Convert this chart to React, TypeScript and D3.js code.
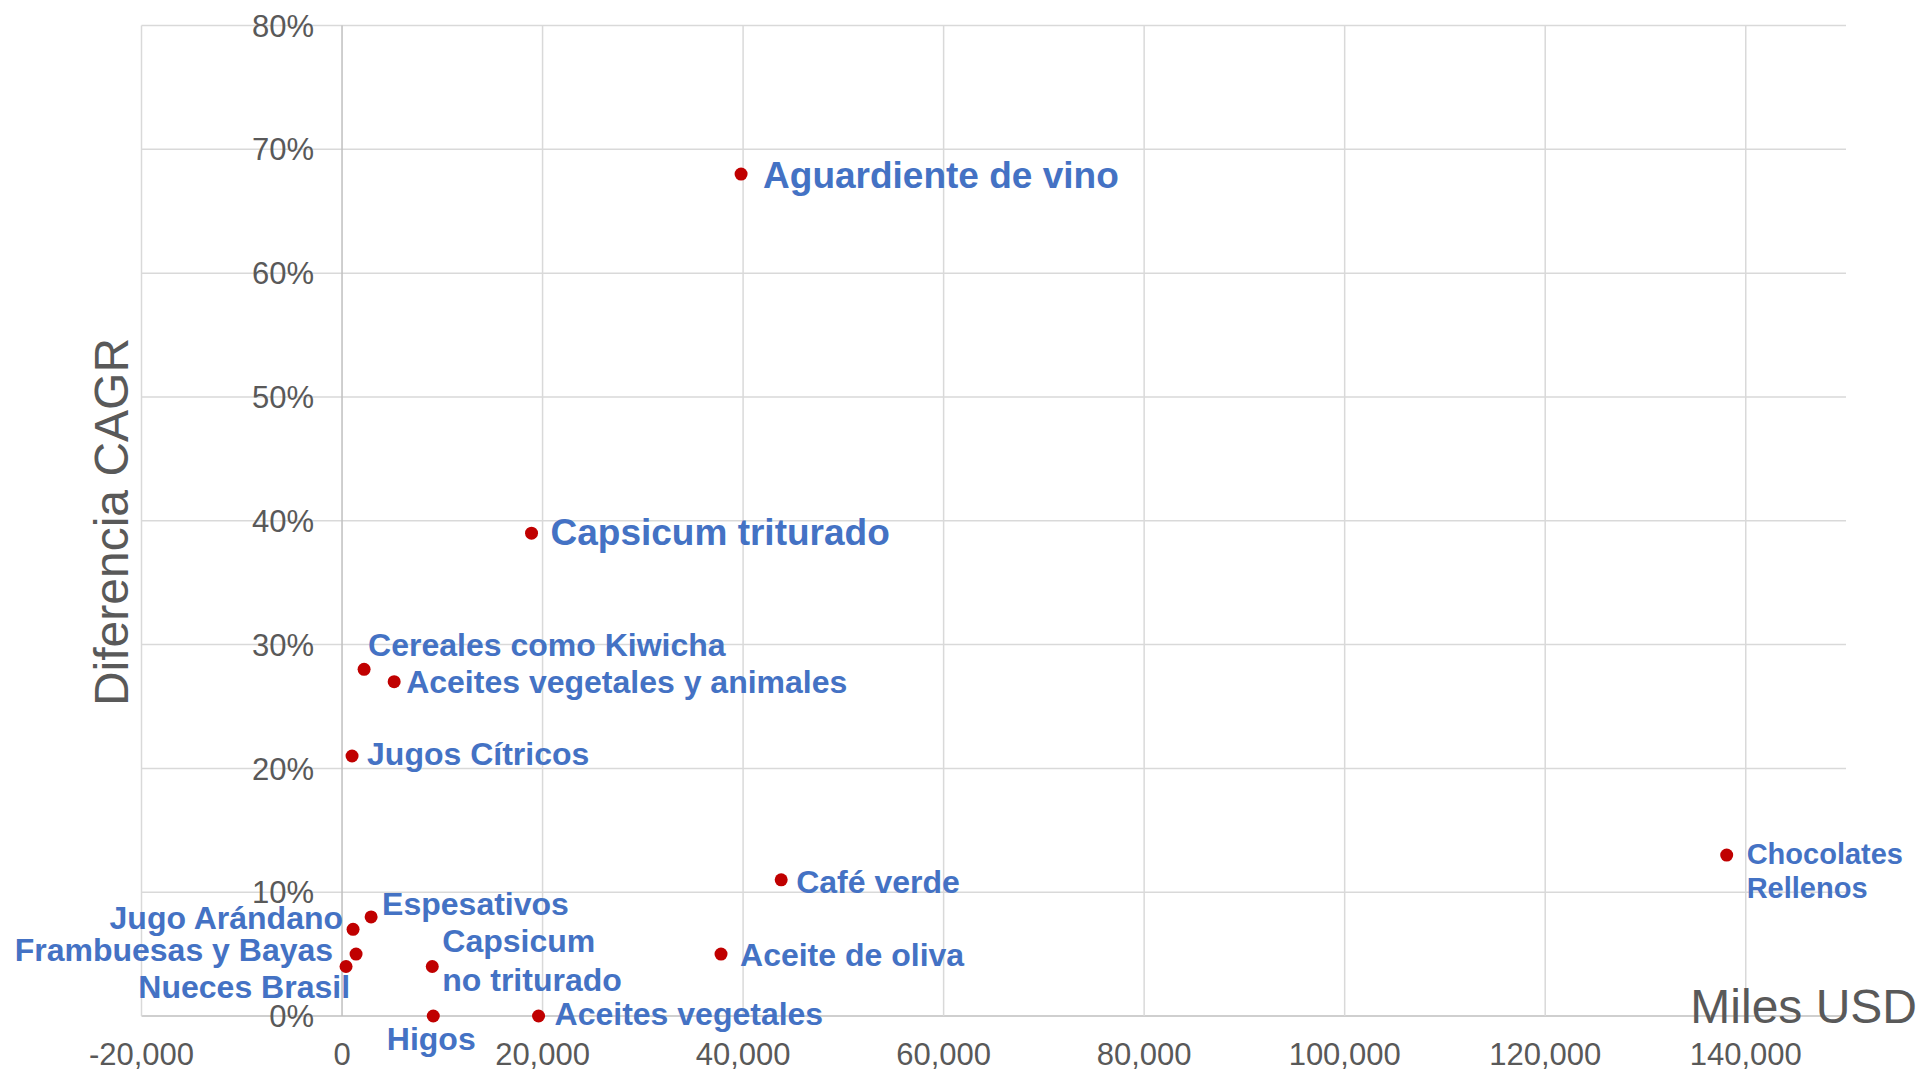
import React, { useEffect } from "react";
import * as d3 from "d3";

// ---- Data ----
const products = [
  "Aguardiente de vino",
  "Capsicum triturado",
  "Cereales como Kiwicha",
  "Aceites vegetales y animales",
  "Jugos Cítricos",
  "Café verde",
  "Chocolates Rellenos",
  "Espesativos",
  "Jugo Arándano",
  "Frambuesas y Bayas",
  "Nueces Brasil",
  "Capsicum no triturado",
  "Higos",
  "Aceites vegetales",
  "Aceite de oliva",
];
// Miles USD
const exportValues = [39800, 18900, 2200, 5200, 1000, 43800, 138100, 2900, 1100, 1400, 400, 9000, 9100, 19600, 37800];
// Diferencia CAGR
const cagrDiff = [0.68, 0.39, 0.28, 0.27, 0.21, 0.11, 0.13, 0.08, 0.07, 0.05, 0.04, 0.04, 0.0, 0.0, 0.05];

const xTicks = [-20000, 0, 20000, 40000, 60000, 80000, 100000, 120000, 140000];
const yTicks = [0, 0.1, 0.2, 0.3, 0.4, 0.5, 0.6, 0.7, 0.8];

// ---- Label layout (presentation only) ----
type LabelLayout = { dx: number; dy: number; anchor: string; size: number; lines?: string[]; lh?: number };
const labelLayout: Record<string, LabelLayout> = {
  "Aguardiente de vino": { dx: 22, dy: 14, anchor: "start", size: 37 },
  "Capsicum triturado": { dx: 19, dy: 12, anchor: "start", size: 37 },
  "Cereales como Kiwicha": { dx: 4, dy: -13, anchor: "start", size: 32 },
  "Aceites vegetales y animales": { dx: 12, dy: 11, anchor: "start", size: 32 },
  "Jugos Cítricos": { dx: 15, dy: 9, anchor: "start", size: 32 },
  "Café verde": { dx: 15, dy: 13, anchor: "start", size: 32 },
  "Chocolates Rellenos": { dx: 20, dy: 9, anchor: "start", size: 29, lines: ["Chocolates", "Rellenos"], lh: 34 },
  "Espesativos": { dx: 11, dy: -2, anchor: "start", size: 32 },
  "Jugo Arándano": { dx: -10, dy: 0, anchor: "end", size: 32 },
  "Frambuesas y Bayas": { dx: -23, dy: 7, anchor: "end", size: 32 },
  "Nueces Brasil": { dx: 4, dy: 32, anchor: "end", size: 32 },
  "Capsicum no triturado": { dx: 10, dy: -14, anchor: "start", size: 32, lines: ["Capsicum", "no triturado"], lh: 39 },
  "Higos": { dx: -2, dy: 34, anchor: "middle", size: 32 },
  "Aceites vegetales": { dx: 16, dy: 9, anchor: "start", size: 32 },
  "Aceite de oliva": { dx: 19, dy: 12, anchor: "start", size: 32 },
};

const W = 1921;
const H = 1071;
const FONT = "'Liberation Sans', Arial, sans-serif";

export default function App() {
  useEffect(() => {
    document.body.style.margin = "0";
  }, []);

  const x = d3.scaleLinear().domain([-20000, 150000]).range([141.5, 1846]);
  const y = d3.scaleLinear().domain([0, 0.8]).range([1016, 25.5]);
  const fmtX = (v: number) => d3.format(",")(v).replace("\u2212", "-");
  const fmtY = d3.format(".0%");

  const points = products.map((name, i) => ({ name, v: exportValues[i], c: cagrDiff[i] }));

  return (
    <svg width={W} height={H} style={{ display: "block", background: "#fff" }} fontFamily={FONT}>
      {/* horizontal gridlines */}
      {yTicks.map((t) => (
        <line key={"h" + t} x1={x(-20000)} x2={x(150000)} y1={y(t)} y2={y(t)}
          stroke={t === 0 ? "#BFBFBF" : "#D9D9D9"} strokeWidth={1.5} />
      ))}
      {/* vertical gridlines */}
      {xTicks.map((t) => (
        <line key={"v" + t} x1={x(t)} x2={x(t)} y1={y(0.8)} y2={y(0)}
          stroke={t === 0 ? "#BFBFBF" : "#D9D9D9"} strokeWidth={1.5} />
      ))}
      {/* y tick labels */}
      {yTicks.map((t) => (
        <text key={"yl" + t} x={x(0) - 28} y={y(t)} dy="0.36em" textAnchor="end"
          fontSize={31} fill="#595959">{fmtY(t)}</text>
      ))}
      {/* x tick labels */}
      {xTicks.map((t) => (
        <text key={"xl" + t} x={x(t)} y={1065} textAnchor="middle" fontSize={31} fill="#595959">
          {fmtX(t)}
        </text>
      ))}
      {/* axis titles */}
      <text transform={`translate(128,522) rotate(-90)`} textAnchor="middle" fontSize={48} fill="#595959">
        Diferencia CAGR
      </text>
      <text x={1917} y={1023} textAnchor="end" fontSize={48} fill="#595959">Miles USD</text>

      {/* points */}
      {points.map((p) => (
        <circle key={"c" + p.name} cx={x(p.v)} cy={y(p.c)} r={6.5} fill="#C00000" />
      ))}
      {/* labels */}
      {points.map((p) => {
        const L = labelLayout[p.name];
        const lines = L.lines ?? [p.name];
        const lh = L.lh ?? L.size * 1.15;
        return (
          <text key={"t" + p.name} x={x(p.v) + L.dx} y={y(p.c) + L.dy} textAnchor={L.anchor}
            fontSize={L.size} fontWeight="bold" fill="#4472C4">
            {lines.map((ln, k) => (
              <tspan key={k} x={x(p.v) + L.dx} dy={k === 0 ? 0 : lh}>{ln}</tspan>
            ))}
          </text>
        );
      })}
    </svg>
  );
}
